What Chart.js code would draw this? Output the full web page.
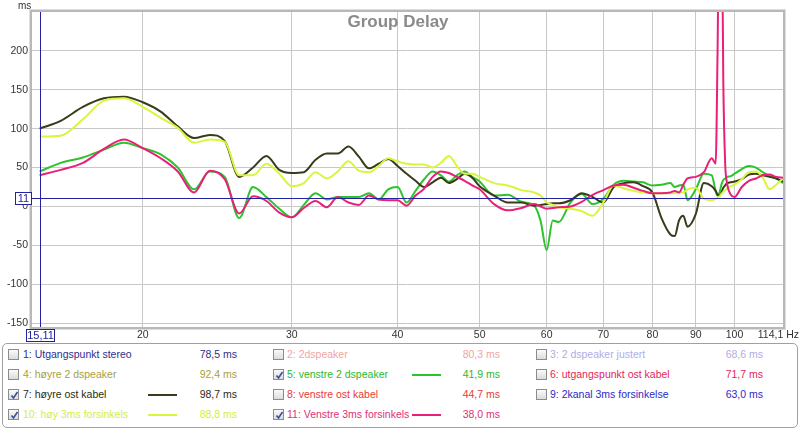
<!DOCTYPE html>
<html><head><meta charset="utf-8">
<script src="https://cdn.jsdelivr.net/npm/chart.js@4.4.1/dist/chart.umd.min.js"></script>
<style>
body{margin:0;background:#fff;width:800px;height:429px;overflow:hidden;font-family:"Liberation Sans",Arial,sans-serif;position:relative}
#c{position:absolute;left:0;top:0}
#legend{position:absolute;left:2px;top:343px;width:796px;height:85px;border:1px solid #a0a0a0;border-radius:5px;box-sizing:border-box}
.it{position:absolute;font-size:10.5px;white-space:nowrap;line-height:13px}
.cb{position:absolute;width:11px;height:11px;border:1px solid #8c8c8c;box-sizing:border-box;background:linear-gradient(#fafafa,#dcdcdc)}
.cb svg{position:absolute;left:0;top:0}
.ln{position:absolute;height:2px}
</style>
</head><body>
<canvas id="c" width="800" height="342"></canvas>
<div id="legend"></div>
<script>
const freqs = [15.11,16,17,18,19,
  20,21,22,23,24,25,26,27,28,29,30,31,32,33,34,35,36,37,38,39,40,41,42,43,44,45,46,47,48,49,50,
  52,54,56,58,59,60,61,62,
  64,66,68,70,72,74,76,78,80,
  82,84,85,86,87,88,90,
  92,94,95,95.5,96,96.5,97,97.5,98,99,100,
  102,104,106,108,110,112,114.1];

const hoyreOstKabel = [100,110,128,139,141,
  134,122,103,88,92,84,38,50,65,47,43,44,60,68,68,77,64,49,55,61,52,42,33,25,31,37,30,35,42,37,26,
  14,5,5,1,2,3,4,4,
  8,17,12,5,25,30,31,26,18,
  -15,-36,-38,-18,-12,-26,-10,
  30,26,20,15,14,18,24,27,30,31,32,
  35,41,42,40,38,36,32];

const hoy3ms = [90,91,112,136,139,
  128,114,101,82,86,83,40,40,55,42,26,30,44,36,45,58,46,44,52,62,58,55,54,54,50,56,65,52,42,42,38,
  30,27,21,18,14,5,2,-1,
  -3,-6,-12,5,27,23,20,18,17,
  17,17,17,18,18,22,24,
  10,8,10,11,13,16,19,21,23,26,28,
  35,44,45,37,22,28,36];

const venstre2ds = [45,56,63,73,82,
  75,67,50,22,45,38,-15,25,12,-3,-14,2,17,9,12,12,12,17,9,22,25,5,20,35,45,40,32,40,45,38,32,
  14,15,6,1,-18,-56,-18,-20,
  5,16,3,10,28,33,32,31,27,
  28,30,25,27,28,8,22,
  42,40,20,14,18,28,34,36,38,39,42,
  48,52,50,44,39,36,30];

const venstre3ms = [40,47,56,74,86,
  75,62,45,18,46,35,-9,13,7,-8,-14,-2,7,-1,12,5,2,14,9,8,8,1,14,23,38,45,43,38,33,27,22,
  3,-5,-2,3,0,-3,-2,-1,
  0,6,15,21,27,28,24,20,17,
  17,18,20,18,28,36,38,
  44,62,55,200,420,420,160,55,30,15,12,
  25,33,36,40,41,38,37];

const xTickValues = [20,30,40,50,60,70,80,90,100,114.1];
const xTickLabels = ["20","30","40","50","60","70","80","90","100","114,1 Hz"];
const yTickValues = [-150,-100,-50,0,50,100,150,200];
const cursorFreq = 15.11, cursorMs = 11;

const legendNames = ["1: Utgangspunkt stereo","2: 2dspeaker","3: 2 dspeaker justert",
  "4: høyre 2 dspeaker","5: venstre 2 dspeaker","6: utgangspunkt ost kabel",
  "7: høyre ost kabel","8: venstre ost kabel","9: 2kanal 3ms forsinkelse",
  "10: høy 3ms forsinkels","11: Venstre 3ms forsinkels"];
const legendValues = ["78,5 ms","80,3 ms","68,6 ms","92,4 ms","41,9 ms","71,7 ms","98,7 ms","44,7 ms","63,0 ms","88,8 ms","38,0 ms"];
const legendColors = ["#2e2e8e","#f2a4a4","#aeaee6","#a8a03c","#2cb82c","#e0285c","#2a2a12","#e83a3a","#2a2ac8","#d2ee44","#e0307a"];
const legendChecked = [false,false,false,false,true,false,true,false,false,true,true];

const colDark="#3a3a1c", colYellow="#d9f53c", colGreen="#2cc42c", colPink="#e8207a";

function pts(arr){return freqs.map((f,i)=>({x:f,y:arr[i]}));}

// legend
const lg = document.body;
const rowsY=[355,375,395,415], cbX=[8,273,536], txX=[23,287,550], valR=[237,500,763], lnX=[148,412];
legendNames.forEach((n,i)=>{
  const r=Math.floor(i/3), c=i%3, cy=rowsY[r];
  const cb=document.createElement('div'); cb.className='cb';
  cb.style.left=cbX[c]+'px'; cb.style.top=(cy-6)+'px';
  if(legendChecked[i]) cb.innerHTML='<svg width="11" height="11" viewBox="0 0 11 11"><path d="M2.5 5.5 L4.5 8 L8.5 2" stroke="#3a4f9a" stroke-width="1.6" fill="none"/></svg>';
  lg.appendChild(cb);
  const t=document.createElement('div'); t.className='it'; t.textContent=n;
  t.style.left=txX[c]+'px'; t.style.top=(cy-7)+'px'; t.style.color=legendColors[i];
  lg.appendChild(t);
  const v=document.createElement('div'); v.className='it'; v.textContent=legendValues[i];
  v.style.left=(valR[c]-60)+'px'; v.style.width='60px'; v.style.textAlign='right';
  v.style.top=(cy-7)+'px'; v.style.color=legendColors[i];
  lg.appendChild(v);
  if(legendChecked[i]){
    const l=document.createElement('div'); l.className='ln';
    l.style.left=lnX[c]+'px'; l.style.width='29px'; l.style.top=(cy-1)+'px';
    l.style.background=[colGreen,colDark,colYellow,colPink][[4,6,9,10].indexOf(i)];
    lg.appendChild(l);
  }
});

const TICK_FONT='10.5px "Liberation Sans", Arial';
const overlay={
  id:'overlay',
  afterDatasetsDraw(chart){
    const {ctx,chartArea:a,scales:{x,y}}=chart;
    ctx.save();
    const cx=Math.round(x.getPixelForValue(cursorFreq))+0.5;
    const cy=Math.round(y.getPixelForValue(cursorMs))+0.5;
    ctx.strokeStyle='#2222a0'; ctx.lineWidth=1;
    ctx.beginPath(); ctx.moveTo(cx,a.top); ctx.lineTo(cx,a.bottom);
    ctx.moveTo(a.left,cy); ctx.lineTo(a.right,cy); ctx.stroke();
    // frame
    ctx.strokeStyle='#b8b8b8'; ctx.lineWidth=2;
    ctx.strokeRect(a.left-1,a.top-1,a.right-a.left+2,a.bottom-a.top+2);
    ctx.strokeStyle='#dedede'; ctx.lineWidth=1;
    ctx.strokeRect(a.left-2.5,a.top-2.5,a.right-a.left+5,a.bottom-a.top+5);
    // title
    ctx.fillStyle='#8a8a8a'; ctx.font='bold 17px "Liberation Sans", Arial';
    ctx.textAlign='center'; ctx.textBaseline='middle';
    ctx.fillText('Group Delay',398,22);
    // ms
    ctx.fillStyle='#333'; ctx.font='10px "Liberation Sans", Arial';
    ctx.textAlign='left'; ctx.textBaseline='alphabetic';
    ctx.fillText('ms',18,9);
    // last x tick label, kept inside the canvas
    ctx.font=TICK_FONT; ctx.textAlign='right'; ctx.textBaseline='middle'; ctx.fillStyle='#333';
    ctx.fillText(xTickLabels[xTickLabels.length-1],799,a.bottom+8.5);
    // cursor boxes
    ctx.font='11px "Liberation Sans", Arial'; ctx.textAlign='center'; ctx.textBaseline='middle';
    ctx.fillStyle='#fff'; ctx.fillRect(15,cy-6.5,16,12);
    ctx.strokeStyle='#2222a0'; ctx.strokeRect(15.5,cy-6,16,12);
    ctx.fillStyle='#2222a0'; ctx.fillText(String(cursorMs),23.5,cy+0.5);
    ctx.fillStyle='#fff'; ctx.fillRect(cx-14.5,a.bottom+2,29,13);
    ctx.strokeStyle='#2222a0'; ctx.strokeRect(cx-14,a.bottom+2.5,28,12);
    ctx.fillStyle='#2222a0'; ctx.fillText(String(cursorFreq).replace('.',','),cx,a.bottom+9);
    ctx.restore();
  }
};

Chart.defaults.font.family='"Liberation Sans", Arial, sans-serif';
Chart.defaults.font.size=10.5;
Chart.defaults.color='#333';

new Chart(document.getElementById('c'),{
  type:'line',
  data:{datasets:[
    {label:'11: Venstre 3ms forsinkels',data:pts(venstre3ms),borderColor:colPink},
    {label:'10: høy 3ms forsinkels',data:pts(hoy3ms),borderColor:colYellow},
    {label:'7: høyre ost kabel',data:pts(hoyreOstKabel),borderColor:colDark},
    {label:'5: venstre 2 dspeaker',data:pts(venstre2ds),borderColor:colGreen}
  ].map(d=>Object.assign(d,{borderWidth:2,pointRadius:0,fill:false,cubicInterpolationMode:'monotone'}))},
  options:{
    responsive:false,animation:false,devicePixelRatio:1,
    layout:{padding:{top:12,right:17,left:0,bottom:0}},
    plugins:{legend:{display:false},tooltip:{enabled:false}},
    scales:{
      x:{type:'logarithmic',min:14.8,max:114.1,
        afterBuildTicks:s=>{s.ticks=xTickValues.map(v=>({value:v}));},
        afterFit:s=>{s.height=15;s.paddingRight=0;s.paddingLeft=0;},
        ticks:{autoSkip:false,maxRotation:0,padding:2,callback:(v,i)=>i===xTickLabels.length-1?'':xTickLabels[i]},
        grid:{color:'#c8c8c8',drawTicks:false},border:{display:false}},
      y:{type:'linear',min:-155,max:250,
        afterBuildTicks:s=>{s.ticks=yTickValues.map(v=>({value:v}));},
        afterFit:s=>{s.width=32;s.paddingTop=0;s.paddingBottom=0;},
        ticks:{padding:4,callback:v=>String(v)},
        grid:{color:'#c8c8c8',drawTicks:false},border:{display:false}}
    }
  },
  plugins:[overlay]
});
</script>
</body></html>
